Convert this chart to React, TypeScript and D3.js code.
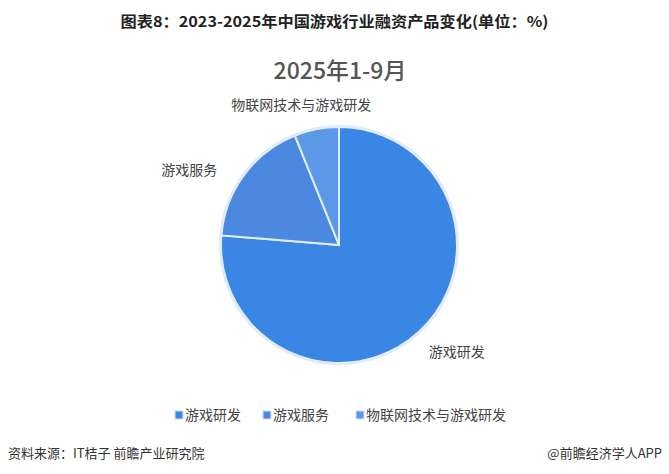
// @ts-nocheck
import * as d3 from "d3"
import { useEffect, useRef } from "react"
import * as React from "react"

const categories = ["游戏研发", "游戏服务", "物联网技术与游戏研发"]
const values = [76.3, 17.6, 6.1]
const colors = ["#3a86e4", "#4a89df", "#5b98e8"]

const title = "图表8：2023-2025年中国游戏行业融资产品变化(单位：%)"
const subtitle = "2025年1-9月"
const source = "资料来源：IT桔子 前瞻产业研究院"
const brand = "@前瞻经济学人APP"

const FONT = "'Noto Sans CJK SC', 'Noto Sans', sans-serif"

function buildSVG() {
  const width = 669
  const height = 474
  const cx = 339
  const cy = 245
  const r = 118

  const svg = d3.create("svg")
    .attr("width", width)
    .attr("height", height)
    .style("position", "absolute")
    .style("left", "0px")
    .style("top", "0px")
    .style("background", "#fff")
    .style("font-family", FONT)

  svg.append("text")
    .attr("x", width / 2)
    .attr("y", 27)
    .attr("text-anchor", "middle")
    .attr("font-size", 15)
    .attr("font-weight", "bold")
    .attr("fill", "#222")
    .attr("textLength", 428)
    .attr("lengthAdjust", "spacingAndGlyphs")
    .text(title)

  svg.append("text")
    .attr("x", 340)
    .attr("y", 79)
    .attr("text-anchor", "middle")
    .attr("font-size", 23)
    .attr("font-weight", 500)
    .attr("fill", "#555")
    .text(subtitle)

  const pie = d3.pie().sort(null).value(d => d)
  const arcs = pie(values)
  const arc = d3.arc().innerRadius(0).outerRadius(r)

  const g = svg.append("g").attr("transform", `translate(${cx},${cy})`)

  g.append("circle")
    .attr("r", r + 1)
    .attr("fill", "none")
    .attr("stroke", "#dce8f8")
    .attr("stroke-width", 2)

  g.selectAll("path")
    .data(arcs)
    .join("path")
    .attr("d", arc)
    .attr("fill", (d, i) => colors[i])
    .attr("stroke", "#e4eefa")
    .attr("stroke-width", 2)
    .attr("stroke-linejoin", "round")

  const labelR = r + 22
  g.selectAll("text.lbl")
    .data(arcs)
    .join("text")
    .attr("class", "lbl")
    .each(function(d, i) {
      const a = (d.startAngle + d.endAngle) / 2
      let x = labelR * Math.sin(a)
      let y = -labelR * Math.cos(a)
      let anchor = x > 0 ? "start" : "end"
      if (Math.abs(x) < 0.3 * r) { anchor = "middle"; x -= 11; y -= 2 }
      else if (x < 0) { x -= 9; y += 8 }
      else { x -= 5; y += 4 }
      d3.select(this)
        .attr("x", x)
        .attr("y", y)
        .attr("dy", "0.35em")
        .attr("text-anchor", anchor)
    })
    .attr("font-size", 14)
    .attr("fill", "#444")
    .text((d, i) => categories[i])

  // legend
  const legendX = [175, 263, 356]
  const legend = svg.append("g")
    .selectAll("g")
    .data(categories)
    .join("g")
    .attr("transform", (d, i) => `translate(${legendX[i]},415)`)
  legend.append("rect")
    .attr("x", 0)
    .attr("y", -4)
    .attr("width", 8)
    .attr("height", 8)
    .attr("fill", (d, i) => colors[i])
    .attr("stroke", "#cfe0f6")
    .attr("stroke-width", 1)
  legend.append("text")
    .attr("x", 10)
    .attr("dy", "0.35em")
    .attr("font-size", 14)
    .attr("fill", "#444")
    .text(d => d)

  svg.append("text")
    .attr("x", 8)
    .attr("y", 453)
    .attr("dy", "0.35em")
    .attr("font-size", 13)
    .attr("fill", "#333")
    .text(source)

  svg.append("text")
    .attr("x", 662)
    .attr("y", 453)
    .attr("dy", "0.35em")
    .attr("text-anchor", "end")
    .attr("font-size", 13)
    .attr("fill", "#333")
    .text(brand)

  return svg
}

export default function App() {
  const ref = useRef<HTMLDivElement>(null)
  useEffect(() => {
    const svg = buildSVG()
    const el = ref.current
    while (el.hasChildNodes()) el.removeChild(el.lastChild)
    el.append(svg.node())
  }, [])
  return <div ref={ref}/>
}
